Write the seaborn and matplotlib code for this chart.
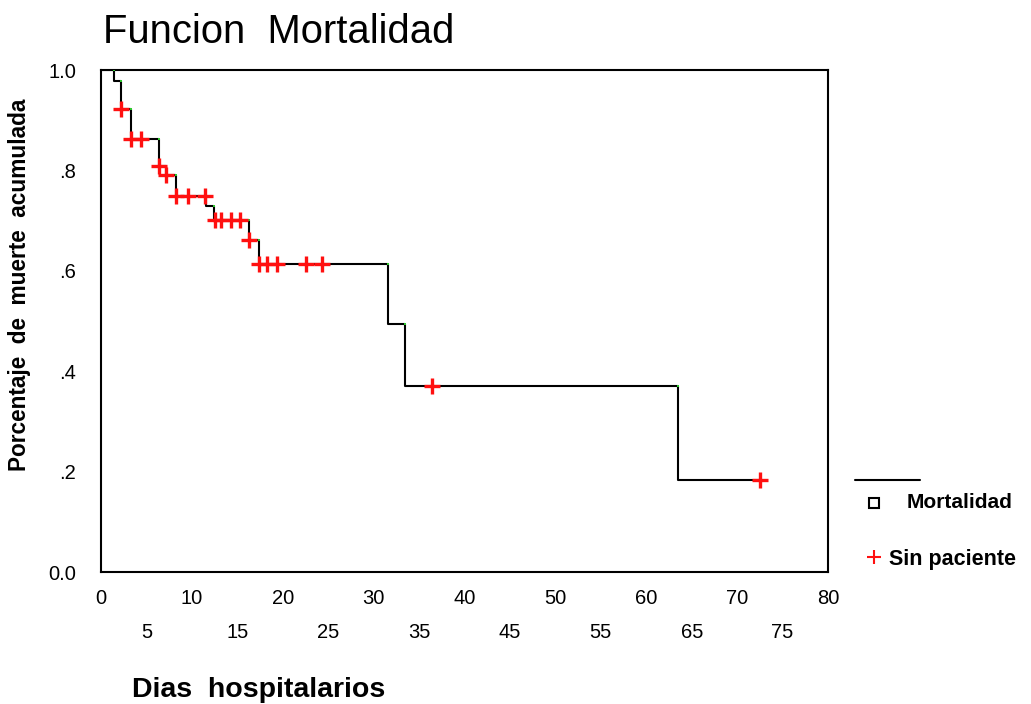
import numpy as np
import pandas as pd
import matplotlib
matplotlib.use("Agg")
import matplotlib.pyplot as plt
from matplotlib.lines import Line2D
import seaborn as sns

# Kaplan-Meier step function: times where the estimate changes and its value after each change
step_days = [0.0, 1.4, 2.2, 3.3, 6.4, 7.2, 8.3, 11.5, 12.45, 16.3, 17.4, 31.55, 33.5, 63.5]
step_surv = [1.0, 0.978, 0.922, 0.862, 0.808, 0.790, 0.750, 0.729, 0.702, 0.662, 0.614, 0.495, 0.371, 0.184]
last_day = 72.6

# Censored observations (patients withdrawn)
censor_days = [2.2, 3.3, 4.4, 6.4, 7.2, 8.3, 9.6, 11.4, 12.56, 13.2, 14.3, 15.3,
               16.3, 17.4, 18.3, 19.35, 22.55, 24.3, 36.4, 72.5]

x_major = [0, 10, 20, 30, 40, 50, 60, 70, 80]
x_minor = [5, 15, 25, 35, 45, 55, 65, 75]
y_ticks = [0.0, 0.2, 0.4, 0.6, 0.8, 1.0]
y_labels = ["0.0", ".2", ".4", ".6", ".8", "1.0"]

sns.set_style("white")
plt.rcParams["font.family"] = ["Liberation Sans", "DejaVu Sans"]
plt.rcParams["text.color"] = "black"
plt.rcParams["axes.labelcolor"] = "black"
plt.rcParams["xtick.color"] = "black"
plt.rcParams["ytick.color"] = "black"

curve = pd.DataFrame({"dia": step_days + [last_day],
                      "surv": step_surv + [step_surv[-1]]})
idx = np.searchsorted(np.array(step_days), np.array(censor_days), side="right") - 1
cens = pd.DataFrame({"dia": censor_days, "surv": np.array(step_surv)[idx]})
corners = pd.DataFrame({"dia": step_days[1:], "surv": step_surv[:-1]})

W, H = 1031, 704
fig = plt.figure(figsize=(W / 100, H / 100), dpi=100)
ax = fig.add_axes([101 / W, 1 - 572 / H, (828 - 101) / W, (572 - 70) / H])

sns.lineplot(data=curve, x="dia", y="surv", ax=ax, color="black", lw=1.5,
             drawstyle="steps-post", zorder=2)
sns.scatterplot(data=corners, x="dia", y="surv", ax=ax, color="#2fc82f",
                marker="s", s=4, linewidth=0, zorder=3)
ax.plot(cens["dia"], cens["surv"], linestyle="none", marker="+", color="#ff1010",
        markersize=12, markeredgewidth=2.4, zorder=4)

ax.set_xlim(0, 80)
ax.set_ylim(0, 1.0)
ax.set_xlabel("")
ax.set_ylabel("")

ax.set_xticks(x_major)
ax.set_xticklabels([str(v) for v in x_major])
ax.set_xticks(x_minor, minor=True)
ax.set_xticklabels([str(v) for v in x_minor], minor=True)
ax.set_yticks(y_ticks)
ax.set_yticklabels(y_labels)

ax.tick_params(axis="x", which="major", direction="out", length=5, width=1.5,
               pad=7, labelsize=14.5, color="black", labelcolor="black")
ax.tick_params(axis="x", which="minor", direction="out", length=5, width=1.5,
               pad=32, labelsize=14.5, color="black", labelcolor="black")
ax.tick_params(axis="y", which="major", direction="out", length=5, width=1.5,
               pad=13, labelsize=14.5, color="black", labelcolor="black")
for side in ax.spines.values():
    side.set_visible(True)
    side.set_color("black")
    side.set_linewidth(1.5)

fig.text(103 / W, 1 - 43 / H, "Funcion  Mortalidad", fontsize=28.8,
         ha="left", va="baseline", color="black")
fig.text(20 / W, 1 - 285 / H, "Porcentaje  de  muerte  acumulada", fontsize=16.3,
         fontweight="bold", rotation=90, ha="center", va="center", color="black")
fig.text(132 / W, 1 - 690 / H, "Dias  hospitalarios", fontsize=20.5,
         fontweight="bold", ha="left", va="center", color="black")

# Legend drawn outside the plotting area
fig.add_artist(Line2D([855 / W, 920 / W], [1 - 480 / H, 1 - 480 / H], color="black", lw=1.5))
fig.add_artist(Line2D([874 / W], [1 - 503 / H], marker="s", markersize=6.5,
                      markerfacecolor="white", markeredgecolor="black",
                      markeredgewidth=1.5, linestyle="none"))
fig.text(907 / W, 1 - 503 / H, "Mortalidad", fontsize=15, fontweight="bold",
         ha="left", va="center", color="black")
fig.add_artist(Line2D([874 / W], [1 - 557 / H], marker="+", markersize=10,
                      color="#ff1010", markeredgewidth=1.5, linestyle="none"))
fig.text(889 / W, 1 - 559 / H, "Sin paciente", fontsize=15.5, fontweight="bold",
         ha="left", va="center", color="black")

fig.savefig("out.png", dpi=100, facecolor="white")
